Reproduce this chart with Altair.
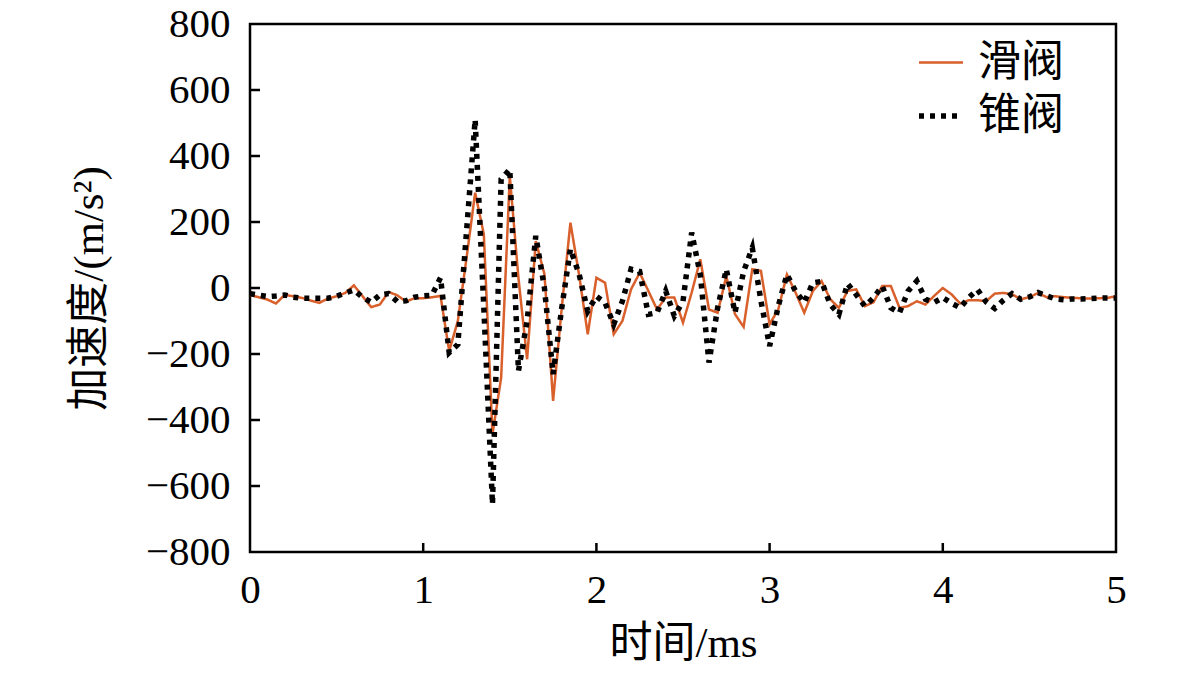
import altair as alt
import pandas as pd

# sampling grid (ms)
time_ms = [round(i * 0.05, 2) for i in range(101)]

slide_valve = [
    -21, -28, -35, -47, -21, -25, -30, -38, -45, -32,
    -25, -15, 8, -25, -58, -50, -12, -22, -41, -31,
    -31, -28, -24, -191, -100, 90, 289, 163, -443, -272,
    339, 30, -216, 142, 42, -342, -60, 198, 40, -140,
    31, 16, -140, -100, -4, 46, -9, -65, -29, -29,
    -105, -14, 87, -65, -75, 36, -79, -118, 57, 52,
    -110, -65, 41, -14, -75, -9, 21, -34, -60, -9,
    -4, -55, -43, 6, 6, -60, -55, -40, -50, -24,
    0, -19, -47, -37, -37, -40, -17, -15, -19, -34,
    -28, -15, -28, -25, -28, -30, -31, -32, -31, -30,
    -25,
]

cone_valve = [
    -17, -22, -26, -24, -21, -28, -31, -31, -31, -31,
    -25, -15, -6, -28, -43, -21, -17, -41, -39, -28,
    -24, -22, 31, -196, -171, 170, 510, -60, -655, 330,
    360, -251, -100, 158, 0, -261, -60, 118, 42, -70,
    -25, -45, -110, -40, 57, 50, -80, -75, -9, -85,
    -40, 168, 40, -226, -60, 57, -75, 50, 122, -39,
    -176, -55, 41, -10, -44, 16, 20, -50, -80, 13,
    -20, -55, -30, 6, -60, -75, -9, 21, -34, -44,
    -29, -46, -60, -29, -5, -42, -62, -37, -17, -34,
    -27, -14, -24, -33, -36, -33, -33, -32, -31, -30,
    -30,
]

series_names = ["滑阀", "锥阀"]
series_colors = ["#d95f2b", "#000000"]
series_dash = [[1, 0], [5, 6]]
series_width = [2.5, 5.5]

x_tick_values = [0, 1, 2, 3, 4, 5]
y_tick_values = [-800, -600, -400, -200, 0, 200, 400, 600, 800]
x_inner_ticks = [1, 2, 3, 4]
y_inner_ticks = [-600, -400, -200, 0, 200, 400, 600]

FONT = "Liberation Serif, Noto Sans CJK SC"
W, H = 866, 528
LBL = 41
TTL = 43

df = pd.DataFrame({
    "t": time_ms * 2,
    "a": slide_valve + cone_valve,
    "series": [series_names[0]] * len(slide_valve) + [series_names[1]] * len(cone_valve),
})

xscale = alt.Scale(domain=[0, 5], nice=False, zero=False)
yscale = alt.Scale(domain=[-800, 800], nice=False)

xaxis = alt.Axis(
    values=x_tick_values, format="d", ticks=False, domain=False, grid=False,
    labelFlush=False, labelOverlap=False,
    labelFontSize=LBL, labelFont=FONT, labelColor="black", labelPadding=18,
    title="时间/ms", titleFontSize=TTL, titleFont=FONT, titleFontWeight="normal",
    titleColor="black", titlePadding=12)
yaxis = alt.Axis(
    values=y_tick_values, format="d", ticks=False, domain=False, grid=False,
    labelFlush=False, labelOverlap=False,
    labelFontSize=LBL, labelFont=FONT, labelColor="black", labelPadding=20,
    title="加速度/(m/s²)", titleFontSize=TTL, titleFont=FONT, titleFontWeight="normal",
    titleColor="black", titlePadding=34)

leg = alt.Legend(
    orient="none", legendX=666, legendY=15, title=None,
    labelFontSize=TTL, labelFont=FONT, labelColor="black",
    symbolType="stroke", symbolSize=1936, rowPadding=6, labelOffset=12,
    padding=0,
)

lines = alt.Chart(df).mark_line().encode(
    x=alt.X("t:Q", scale=xscale, axis=xaxis),
    y=alt.Y("a:Q", scale=yscale, axis=yaxis),
    color=alt.Color("series:N", scale=alt.Scale(domain=series_names, range=series_colors), legend=leg),
    strokeDash=alt.StrokeDash("series:N", scale=alt.Scale(domain=series_names, range=series_dash), legend=leg),
    strokeWidth=alt.StrokeWidth("series:N", scale=alt.Scale(domain=series_names, range=series_width), legend=leg),
)

xt = alt.Chart(pd.DataFrame({"t": x_inner_ticks})).mark_rule(color="black", strokeWidth=2.5).encode(
    x=alt.X("t:Q", scale=xscale, axis=xaxis),
    y=alt.value(H),
    y2=alt.value(H - 9),
)
yt = alt.Chart(pd.DataFrame({"a": y_inner_ticks})).mark_rule(color="black", strokeWidth=2.5).encode(
    y=alt.Y("a:Q", scale=yscale, axis=yaxis),
    x=alt.value(0),
    x2=alt.value(10),
)

chart = alt.layer(lines, xt, yt).properties(
    width=W, height=H,
    autosize=alt.AutoSizeParams(type="none"),
    padding={"left": 242, "top": 16, "right": 57, "bottom": 113},
    background="white",
).configure_view(
    stroke="black", strokeWidth=2.5
)

chart.save("out.html", embed_options={"renderer": "svg", "actions": False})
